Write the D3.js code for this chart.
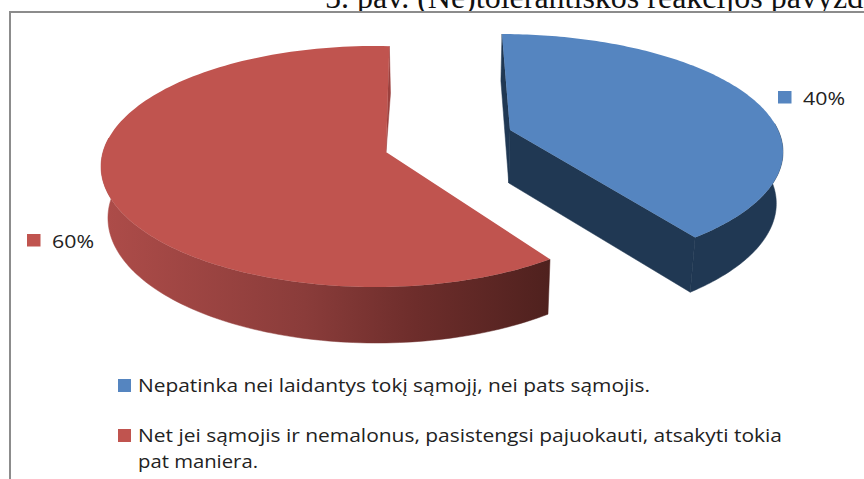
<!DOCTYPE html>
<html><head><meta charset="utf-8">
<script src="https://cdnjs.cloudflare.com/ajax/libs/d3/7.8.5/d3.min.js"></script>
<style>html,body{margin:0;padding:0;background:#fff;overflow:hidden}svg{display:block}</style>
</head><body><svg id="c" width="864" height="479"></svg>
<script>
const titleText = "5. pav. (Ne)tolerantiškos reakcijos pavyzdžiai";
const legendLines = [["Nepatinka nei laidantys tokį sąmojį, nei pats sąmojis."], ["Net jei sąmojis ir nemalonus, pasistengsi pajuokauti, atsakyti tokia", "pat maniera."]];
const values = [40, 60];
const valueLabels = ["40%", "60%"];
const topColors = ["#5585c0", "#c0544f"];
const wallColors = ["#203853", "#9c413e"];

const svg = d3.select("#c");
const X0 = 448, XS = 0.98, D = 51.5, DS = 4.5;
const rad = Math.PI / 180;
// Per-slice projected ellipse: the drawing is foreshortened, so each exploded slice has its own oval and apex
const slices = [
  {cx: 500, cy: 152, rx: 283, ry: 118, ax: 510, ay: 130, drop: 53, th0: 0.4 * rad, th1: 136.4 * rad, seams: "both"},
  {cx: 375, cy: 166.5, rx: 274, ry: 120.5, ax: 386, ay: 152, drop: 0, th0: 140.3 * rad, th1: 363 * rad, seams: "end"}
];
const toBottom = (p, far) => [X0 + XS * (p[0] - X0), p[1] + D + DS * far];
const pie = d3.pie().sort(null).value(d => d);
const arcs = pie(values);
const line = d3.line();
const defs = svg.append("defs");
const grad = defs.append("linearGradient").attr("id", "redWall").attr("gradientUnits", "userSpaceOnUse")
  .attr("x1", 105).attr("x2", 550).attr("y1", 0).attr("y2", 0);
[[0, "#ad4c49"], [0.45, "#8a3c3a"], [0.7, "#6d2d2b"], [1, "#4f211e"]].forEach(s => grad.append("stop").attr("offset", s[0]).attr("stop-color", s[1]));

// title, clipped by the window and the frame
svg.append("text").attr("x", 325).attr("y", 8).attr("font-family", "Liberation Serif, serif").attr("font-size", 32).attr("fill", "#111").text(titleText);
// frame
svg.append("rect").attr("x", 0).attr("y", 13).attr("width", 864).attr("height", 10).attr("fill", "#fff");
svg.append("path").attr("d", "M10,479V12H864").attr("fill", "none").attr("stroke", "#8c8c8c").attr("stroke-width", 2);

arcs.forEach((a, i) => {
  const s = slices[i];
  const theta = t => s.th0 + (s.th1 - s.th0) * (t - a.startAngle) / (a.endAngle - a.startAngle);
  const top = t => { const th = theta(t); return [s.cx + s.rx * Math.sin(th), s.cy - s.ry * Math.cos(th)]; };
  const bot = t => { const th = theta(t); return toBottom(top(t), -Math.cos(th)); };
  const steps = d3.range(0, 161).map(n => a.startAngle + (a.endAngle - a.startAngle) * n / 160);
  const apexT = [s.ax, s.ay];
  const apexB = s.drop ? [X0 + XS * (s.ax - X0), s.ay + s.drop] : apexT;
  const g = svg.append("g");
  const fillWall = i === 0 ? wallColors[0] : "url(#redWall)";
  const edges = s.seams === "both" ? [a.startAngle, a.endAngle] : [a.endAngle];
  edges.forEach(t => {
    g.append("path").attr("d", line([top(t), bot(t), apexB, apexT]) + "Z").attr("fill", wallColors[i])
      .attr("stroke", wallColors[i]).attr("stroke-width", 0.5);
  });
  const outer = steps.filter(t => Math.cos(theta(t)) < 0.25);
  g.append("path").attr("d", line(outer.map(top).concat(outer.slice().reverse().map(bot))) + "Z").attr("fill", fillWall)
    .attr("stroke", fillWall).attr("stroke-width", 0.5);
  g.append("path").attr("d", line([apexT].concat(steps.map(top))) + "Z").attr("fill", topColors[i]);
});

// value labels
const labelPos = [[778, 91], [27, 234]];
valueLabels.forEach((t, i) => {
  svg.append("rect").attr("x", labelPos[i][0]).attr("y", labelPos[i][1]).attr("width", 13.5).attr("height", 12.5).attr("fill", topColors[i]);
  svg.append("text").attr("x", labelPos[i][0] + 25).attr("y", labelPos[i][1] + 13.5).attr("font-family", "Open Sans, sans-serif").attr("font-size", 19).attr("fill", "#222")
    .attr("textLength", 42).attr("lengthAdjust", "spacingAndGlyphs").text(t);
});

// legend
const legendRows = [[{y: 392, w: 512}], [{y: 442, w: 644}, {y: 468, w: 120}]];
legendLines.forEach((lines, i) => {
  svg.append("rect").attr("x", 118).attr("y", legendRows[i][0].y - 13).attr("width", 13).attr("height", 13).attr("fill", topColors[i]);
  lines.forEach((l, j) => {
    svg.append("text").attr("x", 138).attr("y", legendRows[i][j].y)
      .attr("font-family", "Open Sans, sans-serif").attr("font-size", 18.5).attr("fill", "#222")
      .attr("textLength", legendRows[i][j].w).attr("lengthAdjust", "spacingAndGlyphs").text(l);
  });
});
</script></body></html>
